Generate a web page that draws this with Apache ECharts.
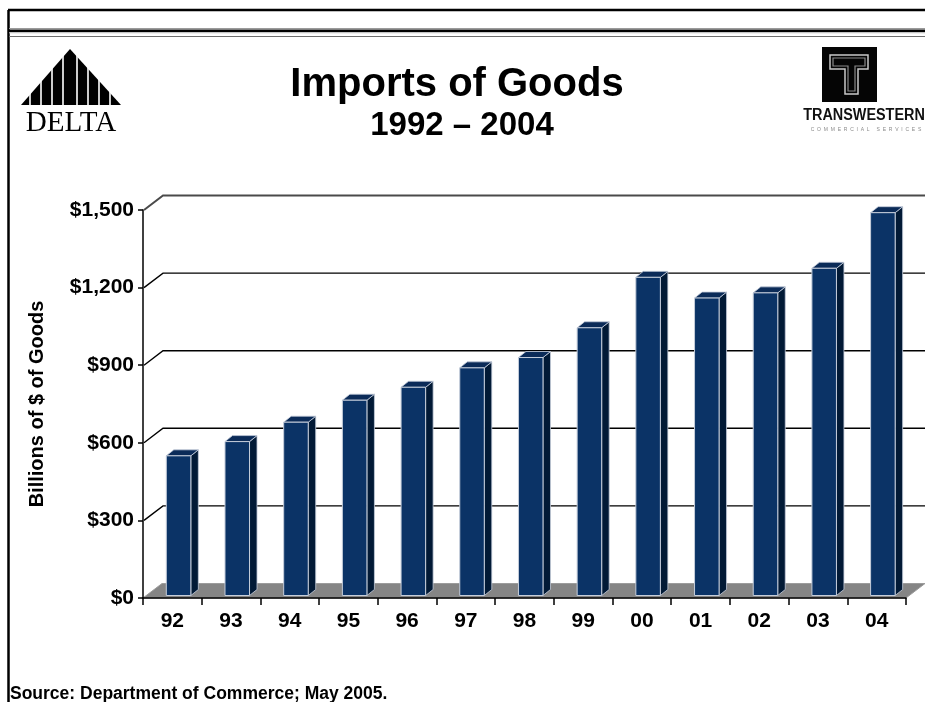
<!DOCTYPE html>
<html>
<head>
<meta charset="utf-8">
<script src="https://cdn.jsdelivr.net/npm/echarts@6/dist/echarts.min.js"></script>
<style>
  html, body { margin: 0; padding: 0; background: #fff; }
  #chart { width: 925px; height: 702px; }
</style>
</head>
<body>
<div id="chart"></div>
<script>
// Imports of goods, billions of dollars, 1992-2004
const years = ['92', '93', '94', '95', '96', '97', '98', '99', '00', '01', '02', '03', '04'];
const imports = [540, 595, 670, 755, 805, 880, 920, 1035, 1230, 1150, 1170, 1265, 1480];
const yTicks = [0, 300, 600, 900, 1200, 1500];

const FONT = '"Liberation Sans", Arial, Helvetica, sans-serif';
// oblique depth of the back wall / floor
const DX = 19, DY = -14.5;
// depth of each bar
const BDX = 7.5, BDY = -6;

const chart = echarts.init(document.getElementById('chart'));

function renderFloor(params, api) {
  const cs = params.coordSys;
  const y0 = api.coord([0, 0])[1];
  const xl = cs.x, xr = cs.x + cs.width;
  return {
    type: 'polygon',
    shape: { points: [[xl, y0], [xr, y0], [xr + DX, y0 + DY], [xl + DX, y0 + DY]] },
    style: { fill: '#858585', stroke: '#9c9c9c', lineWidth: 1 }
  };
}

function renderGrid(params, api) {
  const cs = params.coordSys;
  const v = api.value(1);
  if (v === 0) return null;
  const y = api.coord([0, v])[1];
  const xl = cs.x + 1;
  const top = v === yTicks[yTicks.length - 1];
  return {
    type: 'polyline',
    shape: { points: [[xl, y], [xl + DX, y + DY], [cs.x + cs.width + DX + 4, y + DY]] },
    style: { fill: null, stroke: top ? '#4a4a4a' : '#000', lineWidth: top ? 2 : 1.4 }
  };
}

function renderBar(params, api) {
  const i = api.value(0);
  const base = api.coord([i, 0]);
  const top = api.coord([i, api.value(1)]);
  const band = api.size([1, 0])[0];
  const x0 = base[0] - band * 0.103;
  const x1 = x0 + band * 0.418;
  const yb = base[1] - 2.5;
  const yt = top[1] - 2.5;
  const edge = '#c5cdda';
  return {
    type: 'group',
    children: [
      {
        type: 'polygon',
        shape: { points: [[x1, yb], [x1 + BDX, yb + BDY], [x1 + BDX, yt + BDY], [x1, yt]] },
        style: { fill: '#021a36', stroke: edge, lineWidth: 0.8 }
      },
      {
        type: 'polygon',
        shape: { points: [[x0, yt], [x1, yt], [x1 + BDX, yt + BDY], [x0 + BDX, yt + BDY]] },
        style: { fill: '#0b2b58', stroke: edge, lineWidth: 0.8 }
      },
      {
        type: 'rect',
        shape: { x: x0, y: yt, width: x1 - x0, height: yb - yt },
        style: { fill: '#0b3366', stroke: edge, lineWidth: 1 }
      }
    ]
  };
}

// DELTA logo: striped pyramid
const deltaStripes = [-40, -29, -18, -7, 7, 18, 29, 40].map(function (d) {
  return {
    type: 'line',
    shape: { x1: 70 + d, y1: 48, x2: 70 + d, y2: 106 },
    style: { stroke: '#fff', lineWidth: 1.6 }
  };
});

const option = {
  animation: false,
  backgroundColor: '#fff',
  grid: { left: 143, right: 19, top: 210, bottom: 104, containLabel: false },
  xAxis: {
    type: 'category',
    data: years,
    z: 10,
    axisLine: { lineStyle: { color: '#000', width: 1.5 } },
    axisTick: { show: true, length: 7, lineStyle: { color: '#000', width: 1.5 } },
    axisLabel: { color: '#000', fontFamily: FONT, fontWeight: 'bold', fontSize: 21, margin: 13 }
  },
  yAxis: {
    type: 'value',
    min: 0,
    max: 1500,
    interval: 300,
    z: 10,
    name: 'Billions of $ of Goods',
    nameLocation: 'middle',
    nameRotate: 90,
    nameGap: 96,
    nameTextStyle: { color: '#000', fontFamily: FONT, fontWeight: 'bold', fontSize: 20 },
    axisLine: { show: true, lineStyle: { color: '#000', width: 1.5 } },
    axisTick: { show: true, length: 5, lineStyle: { color: '#000', width: 1.5 } },
    splitLine: { show: false },
    axisLabel: {
      color: '#000', fontFamily: FONT, fontWeight: 'bold', fontSize: 21, margin: 9,
      formatter: function (v) { return '$' + v.toLocaleString('en-US'); }
    }
  },
  series: [
    {
      type: 'custom', name: 'floor', z: 1,
      data: [[0, 0]],
      encode: { x: 0, y: 1 },
      renderItem: renderFloor,
      silent: true
    },
    {
      type: 'custom', name: 'gridlines', z: 1,
      data: yTicks.map(function (v) { return [0, v]; }),
      encode: { x: 0, y: 1 },
      renderItem: renderGrid,
      silent: true
    },
    {
      type: 'custom', name: 'Imports', z: 3,
      data: imports.map(function (v, i) { return [i, v]; }),
      encode: { x: 0, y: 1 },
      renderItem: renderBar
    }
  ],
  graphic: [
    // page frame and header rules
    { type: 'line', shape: { x1: 8.5, y1: 10, x2: 8.5, y2: 702 }, style: { stroke: '#000', lineWidth: 2.5 } },
    { type: 'line', shape: { x1: 8, y1: 10, x2: 925, y2: 10 }, style: { stroke: '#000', lineWidth: 2.5 } },
    { type: 'line', shape: { x1: 9, y1: 28.5, x2: 925, y2: 28.5 }, style: { stroke: '#9a9a9a', lineWidth: 1.2 } },
    { type: 'line', shape: { x1: 9, y1: 30.8, x2: 925, y2: 30.8 }, style: { stroke: '#000', lineWidth: 2.8 } },
    { type: 'line', shape: { x1: 9, y1: 32.8, x2: 925, y2: 32.8 }, style: { stroke: '#c8c8c8', lineWidth: 1 } },
    { type: 'line', shape: { x1: 9, y1: 36.5, x2: 925, y2: 36.5 }, style: { stroke: '#6e6e6e', lineWidth: 1.2 } },

    // DELTA logo
    { type: 'polygon', shape: { points: [[70, 49], [121, 105], [21, 105]] }, style: { fill: '#000' } },
    ...deltaStripes,
    {
      type: 'text', x: 71, y: 123, scaleX: 0.97,
      style: { text: 'DELTA', fontFamily: '"Liberation Serif", "Times New Roman", serif', fontSize: 30,
        fill: '#000', textAlign: 'center', textVerticalAlign: 'middle' }
    },

    // TRANSWESTERN logo
    { type: 'rect', shape: { x: 822, y: 47, width: 55, height: 55 }, style: { fill: '#050505' } },
    {
      type: 'polygon',
      shape: { points: [[830, 55], [868, 55], [868, 69], [858, 69], [858, 94], [845, 94], [845, 69], [830, 69]] },
      style: { fill: null, stroke: '#c9c9c9', lineWidth: 1.5 }
    },
    {
      type: 'polygon',
      shape: { points: [[833, 58], [865, 58], [865, 66], [855, 66], [855, 91], [848, 91], [848, 66], [833, 66]] },
      style: { fill: null, stroke: '#8a8a8a', lineWidth: 1.2 }
    },
    {
      type: 'text', x: 864, y: 116, scaleX: 0.9,
      style: { text: 'TRANSWESTERN', fontFamily: FONT, fontWeight: 'bold', fontSize: 16,
        fill: '#111', textAlign: 'center', textVerticalAlign: 'middle' }
    },
    {
      type: 'text', x: 866, y: 130,
      style: { text: 'C  O  M  M  E  R  C  I  A  L     S  E  R  V  I  C  E  S', fontFamily: FONT, fontSize: 5,
        fill: '#8a8a8a', textAlign: 'center', textVerticalAlign: 'middle' }
    },

    // titles
    {
      type: 'text', x: 457, y: 85,
      style: { text: 'Imports of Goods', fontFamily: FONT, fontWeight: 'bold', fontSize: 40,
        fill: '#000', textAlign: 'center', textVerticalAlign: 'middle' }
    },
    {
      type: 'text', x: 462, y: 126,
      style: { text: '1992 \u2013 2004', fontFamily: FONT, fontWeight: 'bold', fontSize: 33,
        fill: '#000', textAlign: 'center', textVerticalAlign: 'middle' }
    },

    // source note
    {
      type: 'text', x: 10, y: 694,
      style: { text: 'Source: Department of Commerce; May 2005.', fontFamily: FONT, fontWeight: 'bold',
        fontSize: 17.5, fill: '#000', textAlign: 'left', textVerticalAlign: 'middle' }
    }
  ]
};

chart.setOption(option);
</script>
</body>
</html>
